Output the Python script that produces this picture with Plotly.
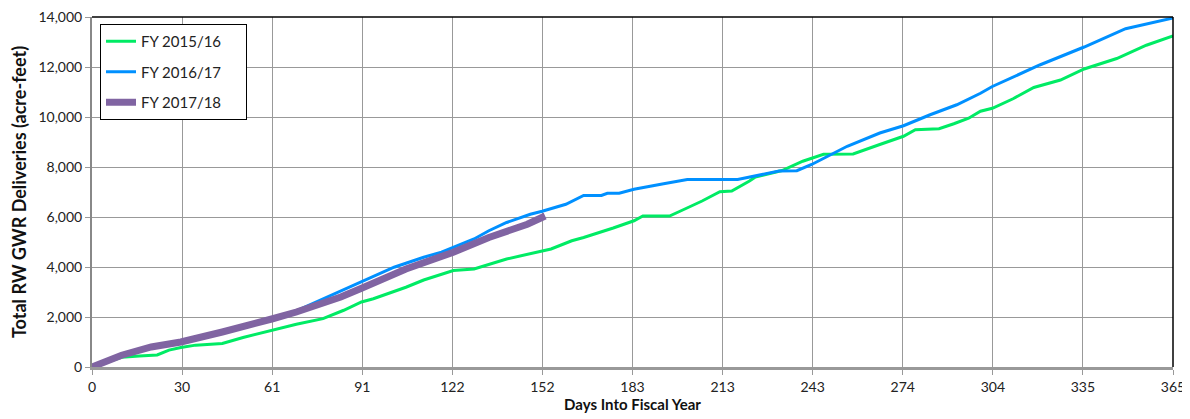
import plotly.graph_objects as go

# ---- data ----
fy1516_days = [0, 5, 10, 16, 22, 26, 30, 35, 44, 51, 61, 69, 78, 85, 91, 95, 106, 112, 122, 129,
               140, 152, 155, 162, 166, 176, 183, 186, 195, 200, 206, 212, 216, 222, 224, 233,
               240, 247, 257, 266, 274, 278, 286, 291, 296, 300, 304, 311, 318, 327, 335, 346, 356, 365]
fy1516_vals = [0, 190, 390, 440, 480, 675, 780, 875, 940, 1180, 1470, 1710, 1935, 2270, 2600, 2730,
               3190, 3480, 3860, 3920, 4320, 4650, 4720, 5050, 5180, 5560, 5850, 6040, 6040, 6310,
               6640, 7010, 7040, 7440, 7600, 7860, 8230, 8510, 8520, 8900, 9230, 9490, 9530, 9730,
               9950, 10230, 10350, 10730, 11180, 11480, 11920, 12340, 12870, 13240]

fy1617_days = [0, 5, 10, 20, 30, 44, 55, 61, 69, 78, 84, 91, 102, 106, 112, 118, 122, 129, 134, 140,
               148, 152, 160, 166, 172, 174, 178, 183, 193, 201, 218, 227, 232, 238, 243, 255, 266,
               274, 283, 292, 300, 304, 320, 335, 349, 365]
fy1617_vals = [0, 230, 450, 800, 1000, 1400, 1750, 1950, 2250, 2730, 3060, 3420, 3990, 4150, 4390,
               4590, 4780, 5120, 5450, 5780, 6110, 6230, 6510, 6860, 6860, 6950, 6950, 7110, 7330,
               7500, 7500, 7730, 7840, 7850, 8100, 8830, 9360, 9650, 10090, 10490, 10950, 11220,
               12080, 12800, 13530, 13960]

fy1718_days = [0, 5, 10, 20, 30, 44, 55, 61, 69, 78, 84, 91, 106, 122, 134, 147, 153]
fy1718_vals = [0, 250, 470, 800, 1000, 1400, 1720, 1930, 2200, 2530, 2800, 3150, 3920, 4590, 5180,
               5710, 6040]

series_names = ["FY 2015/16", "FY 2016/17", "FY 2017/18"]
tick_labels = ["0", "30", "61", "91", "122", "152", "183", "213", "243", "274", "304", "335", "365"]
tick_positions = [i * 365 / 12 for i in range(len(tick_labels))]

FONT = "Lato"
PAD = "\u00a0" * 5  # widen legend box like the reference

fig = go.Figure()
fig.add_trace(go.Scatter(x=fy1516_days, y=fy1516_vals, mode="lines", name=series_names[0] + PAD,
                         line=dict(color="#00EB64", width=3), legendgroup="a"))
fig.add_trace(go.Scatter(x=fy1617_days, y=fy1617_vals, mode="lines", name=series_names[1] + PAD,
                         line=dict(color="#0090FF", width=3), legendgroup="b"))
fig.add_trace(go.Scatter(x=fy1718_days, y=fy1718_vals, mode="lines", name=series_names[2] + PAD,
                         line=dict(color="#8064A2", width=7), legendgroup="c"))

fig.update_layout(
    width=1182, height=411,
    margin=dict(l=84, r=17, t=9, b=52, autoexpand=False),
    paper_bgcolor="white", plot_bgcolor="white",
    font=dict(family=FONT, size=14, color="#222"),
    showlegend=True,
    legend=dict(x=0.0074, y=0.98, xanchor="left", yanchor="top",
                bgcolor="white", bordercolor="black", borderwidth=1,
                font=dict(family=FONT, size=15, color="#222"),
                tracegroupgap=8, traceorder="grouped"),
    xaxis=dict(range=[0, 365], tickvals=tick_positions, ticktext=tick_labels,
               automargin=False, ticklabeloverflow="allow",
               showgrid=True, gridcolor="#999", gridwidth=1,
               zeroline=False, showline=True, linecolor="#999", linewidth=3,
               ticks="outside", ticklen=5, tickcolor="#999",
               tickfont=dict(family=FONT, size=14, color="#222"),
               title=dict(text="<b>Days Into Fiscal Year</b>", standoff=0,
                          font=dict(family=FONT, size=15, color="#111"))),
    yaxis=dict(range=[0, 14000], dtick=2000, tickformat=",",
               automargin=False, ticklabeloverflow="allow",
               showgrid=True, gridcolor="#999", gridwidth=1,
               zeroline=False, showline=True, linecolor="#888", linewidth=2,
               ticks="outside", ticklen=5, tickcolor="#999",
               tickfont=dict(family=FONT, size=14, color="#222"),
               title=dict(text="<b>Total RW GWR Deliveries (acre-feet)</b>", standoff=10,
                          font=dict(family=FONT, size=18, color="#111"))),
    shapes=[
        dict(type="line", xref="paper", yref="paper", x0=0, x1=1, y0=1, y1=1,
             line=dict(color="black", width=1.5)),
        dict(type="line", xref="paper", yref="paper", x0=1, x1=1, y0=0, y1=1,
             line=dict(color="black", width=1.5)),
    ],
)

fig.write_html("out.html")
